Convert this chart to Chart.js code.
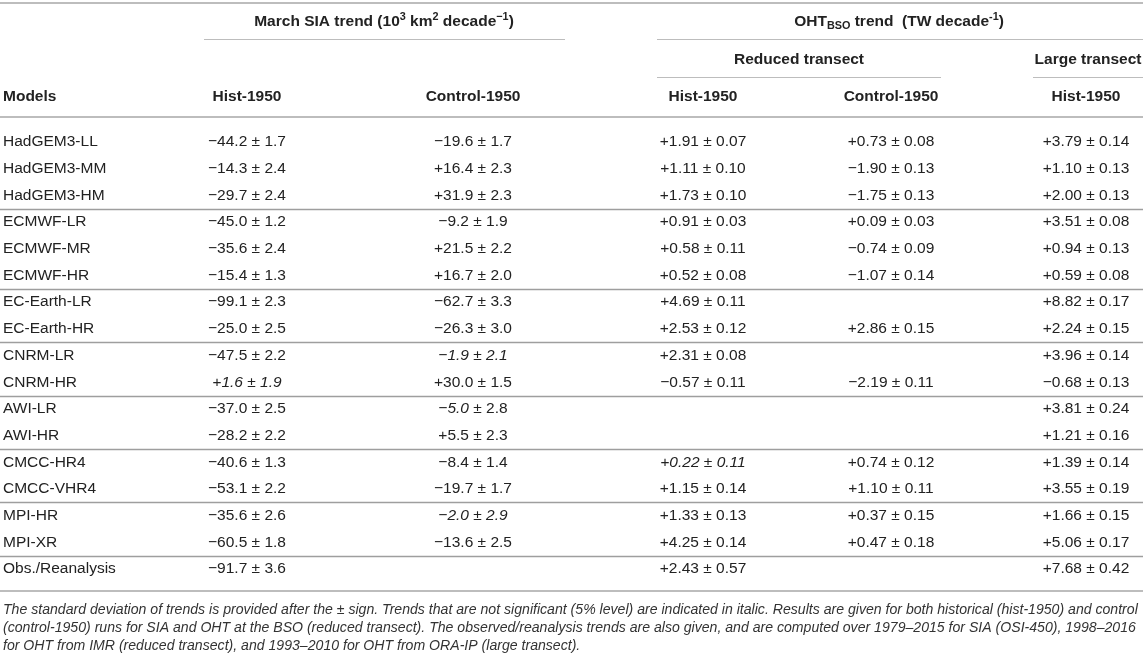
<!DOCTYPE html>
<html>
<head>
<meta charset="utf-8">
<script src="https://cdn.jsdelivr.net/npm/chart.js@4.4.0/dist/chart.umd.min.js"></script>
<style>
  html, body { margin: 0; padding: 0; background: #fff; }
  canvas { display: block; }
</style>
</head>
<body>
<canvas id="tbl" width="1143" height="658"></canvas>
<script>
// ---- table data ----
var models = ['HadGEM3-LL', 'HadGEM3-MM', 'HadGEM3-HM', 'ECMWF-LR', 'ECMWF-MR', 'ECMWF-HR',
    'EC-Earth-LR', 'EC-Earth-HR', 'CNRM-LR', 'CNRM-HR', 'AWI-LR', 'AWI-HR',
    'CMCC-HR4', 'CMCC-VHR4', 'MPI-HR', 'MPI-XR', 'Obs./Reanalysis'];
var groupEnds = [2, 5, 7, 9, 11, 13, 15]; // a rule is drawn under these rows

var siaHist   = [-44.2, -14.3, -29.7, -45.0, -35.6, -15.4, -99.1, -25.0, -47.5, 1.6, -37.0, -28.2, -40.6, -53.1, -35.6, -60.5, -91.7];
var siaHistSd = [1.7, 2.4, 2.4, 1.2, 2.4, 1.3, 2.3, 2.5, 2.2, 1.9, 2.5, 2.2, 1.3, 2.2, 2.6, 1.8, 3.6];
var siaCtrl   = [-19.6, 16.4, 31.9, -9.2, 21.5, 16.7, -62.7, -26.3, -1.9, 30.0, -5.0, 5.5, -8.4, -19.7, -2.0, -13.6, null];
var siaCtrlSd = [1.7, 2.3, 2.3, 1.9, 2.2, 2.0, 3.3, 3.0, 2.1, 1.5, 2.8, 2.3, 1.4, 1.7, 2.9, 2.5, null];
var ohtHist   = [1.91, 1.11, 1.73, 0.91, 0.58, 0.52, 4.69, 2.53, 2.31, -0.57, null, null, 0.22, 1.15, 1.33, 4.25, 2.43];
var ohtHistSd = [0.07, 0.10, 0.10, 0.03, 0.11, 0.08, 0.11, 0.12, 0.08, 0.11, null, null, 0.11, 0.14, 0.13, 0.14, 0.57];
var ohtCtrl   = [0.73, -1.90, -1.75, 0.09, -0.74, -1.07, null, 2.86, null, -2.19, null, null, 0.74, 1.10, 0.37, 0.47, null];
var ohtCtrlSd = [0.08, 0.13, 0.13, 0.03, 0.09, 0.14, null, 0.15, null, 0.11, null, null, 0.12, 0.11, 0.15, 0.18, null];
var ohtLarge   = [3.79, 1.10, 2.00, 3.51, 0.94, 0.59, 8.82, 2.24, 3.96, -0.68, 3.81, 1.21, 1.39, 3.55, 1.66, 5.06, 7.68];
var ohtLargeSd = [0.14, 0.13, 0.13, 0.08, 0.13, 0.08, 0.17, 0.15, 0.14, 0.13, 0.24, 0.16, 0.14, 0.19, 0.15, 0.17, 0.42];

// not significant trends: 'b' = value and sd in italic, 'v' = value only
var italicSiaHist = { 9: 'b' };
var italicSiaCtrl = { 8: 'b', 10: 'v', 14: 'b' };
var italicOhtHist = { 12: 'b' };

var colHeads = ['Models', 'Hist-1950', 'Control-1950', 'Hist-1950', 'Control-1950', 'Hist-1950'];
var caption = [
    'The standard deviation of trends is provided after the \u00b1 sign. Trends that are not significant (5% level) are indicated in italic. Results are given for both historical (hist-1950) and control',
    '(control-1950) runs for SIA and OHT at the BSO (reduced transect). The observed/reanalysis trends are also given, and are computed over 1979\u20132015 for SIA (OSI-450), 1998\u20132016',
    'for OHT from IMR (reduced transect), and 1993\u20132010 for OHT from ORA-IP (large transect).'
];

// ---- layout ----
var FAMILY = '"Liberation Sans", Arial, Helvetica, sans-serif';
var FS = 15.5;
var CAPTION_FS = 14.1;
var colX = [3, 247, 473, 703, 891, 1086];
var hdr = { top: -5.21, group: -4.49, rule1: -3.86, sub: -3.07, rule2: -2.43, head: -1.69, rule3: -0.94 };
var bottomRule = 16.82;
var captionY = [17.52, 18.2, 18.88];

var columns = [
    { v: siaHist, sd: siaHistSd, d: 1, it: italicSiaHist },
    { v: siaCtrl, sd: siaCtrlSd, d: 1, it: italicSiaCtrl },
    { v: ohtHist, sd: ohtHistSd, d: 2, it: italicOhtHist },
    { v: ohtCtrl, sd: ohtCtrlSd, d: 2, it: {} },
    { v: ohtLarge, sd: ohtLargeSd, d: 2, it: {} }
];

function fmt(v, d) {
    return (v < 0 ? '\u2212' : '+') + Math.abs(v).toFixed(d);
}

function drawRuns(ctx, runs, px, py, align, size, weight) {
    var parts = runs.map(function(r) {
        var s = (r.sup || r.sub) ? size * 0.7 : size;
        var font = (r.it ? 'italic ' : '') + weight + ' ' + s + 'px ' + FAMILY;
        ctx.font = font;
        return { t: r.t, font: font, w: ctx.measureText(r.t).width,
            dy: r.sup ? -size * 0.36 : (r.sub ? size * 0.22 : 0) };
    });
    var total = parts.reduce(function(a, p) { return a + p.w; }, 0);
    var cx = align === 'center' ? px - total / 2 : (align === 'right' ? px - total : px);
    ctx.textAlign = 'left';
    ctx.textBaseline = 'middle';
    parts.forEach(function(p) {
        ctx.font = p.font;
        ctx.fillText(p.t, cx, py + p.dy);
        cx += p.w;
    });
}

function rule(ctx, x, y, x0, x1, yv, width, color) {
    var py = Math.round(y.getPixelForValue(yv)) + (width % 2 ? 0.5 : 0);
    ctx.beginPath();
    ctx.lineWidth = width;
    ctx.strokeStyle = color;
    ctx.moveTo(x.getPixelForValue(x0), py);
    ctx.lineTo(x.getPixelForValue(x1), py);
    ctx.stroke();
}

var tablePlugin = {
    id: 'table',
    afterDatasetsDraw: function(chart) {
        var ctx = chart.ctx;
        var x = chart.scales.x, y = chart.scales.y;
        ctx.save();
        ctx.fillStyle = '#222';

        // rules
        rule(ctx, x, y, 0, 1143, hdr.top, 2, '#bdbdbd');
        rule(ctx, x, y, 204, 565, hdr.rule1, 1, '#bdbdbd');
        rule(ctx, x, y, 657, 1143, hdr.rule1, 1, '#bdbdbd');
        rule(ctx, x, y, 657, 941, hdr.rule2, 1, '#bdbdbd');
        rule(ctx, x, y, 1033, 1143, hdr.rule2, 1, '#bdbdbd');
        rule(ctx, x, y, 0, 1143, hdr.rule3, 2, '#bdbdbd');
        groupEnds.forEach(function(r) {
            rule(ctx, x, y, 0, 1143, r + 0.5, 1.5, '#9e9e9e');
        });
        rule(ctx, x, y, 0, 1143, bottomRule, 2, '#bdbdbd');

        // header text
        var gy = y.getPixelForValue(hdr.group);
        drawRuns(ctx, [{ t: 'March SIA trend (10' }, { t: '3', sup: true }, { t: ' km' }, { t: '2', sup: true },
            { t: ' decade' }, { t: '\u22121', sup: true }, { t: ')' }],
            x.getPixelForValue(384), gy, 'center', FS, 'bold');
        drawRuns(ctx, [{ t: 'OHT' }, { t: 'BSO', sub: true }, { t: ' trend  (TW decade' }, { t: '-1', sup: true }, { t: ')' }],
            x.getPixelForValue(899), gy, 'center', FS, 'bold');
        var sy = y.getPixelForValue(hdr.sub);
        drawRuns(ctx, [{ t: 'Reduced transect' }], x.getPixelForValue(799), sy, 'center', FS, 'bold');
        drawRuns(ctx, [{ t: 'Large transect' }], x.getPixelForValue(1088), sy, 'center', FS, 'bold');
        var hy = y.getPixelForValue(hdr.head);
        colHeads.forEach(function(h, c) {
            drawRuns(ctx, [{ t: h }], x.getPixelForValue(colX[c]), hy, c === 0 ? 'left' : 'center', FS, 'bold');
        });

        // cells, placed by the dataset elements
        chart.data.datasets.forEach(function(ds, di) {
            var meta = chart.getDatasetMeta(di);
            meta.data.forEach(function(el, j) {
                var p = ds.data[j];
                if (di === 0) {
                    drawRuns(ctx, [{ t: p.label }], el.x, el.y, 'left', FS, 'normal');
                } else {
                    drawRuns(ctx, [{ t: fmt(p.v, p.d), it: !!p.it }, { t: ' \u00b1 ' },
                        { t: p.sd.toFixed(p.d), it: p.it === 'b' }], el.x, el.y, 'center', FS, 'normal');
                }
            });
        });

        // caption
        ctx.fillStyle = '#333';
        caption.forEach(function(line, k) {
            drawRuns(ctx, [{ t: line, it: true }], x.getPixelForValue(3), y.getPixelForValue(captionY[k]), 'left', CAPTION_FS, 'normal');
        });
        ctx.restore();
    }
};

var datasets = [{
    label: 'Models',
    data: models.map(function(m, i) { return { x: colX[0], y: i, label: m }; })
}];
columns.forEach(function(col, c) {
    var pts = [];
    col.v.forEach(function(v, i) {
        if (v !== null) pts.push({ x: colX[c + 1], y: i, v: v, sd: col.sd[i], d: col.d, it: col.it[i] });
    });
    datasets.push({ label: colHeads[c + 1], data: pts });
});

new Chart(document.getElementById('tbl').getContext('2d'), {
    type: 'scatter',
    data: { datasets: datasets },
    options: {
        responsive: false,
        animation: false,
        layout: { padding: 0 },
        elements: { point: { radius: 0, hoverRadius: 0 } },
        plugins: { legend: { display: false }, tooltip: { enabled: false } },
        events: [],
        scales: {
            x: { type: 'linear', min: 0, max: 1143, display: false },
            y: { type: 'linear', min: -5.318, max: 19.326, reverse: true, display: false }
        }
    },
    plugins: [tablePlugin]
});
</script>
</body>
</html>
